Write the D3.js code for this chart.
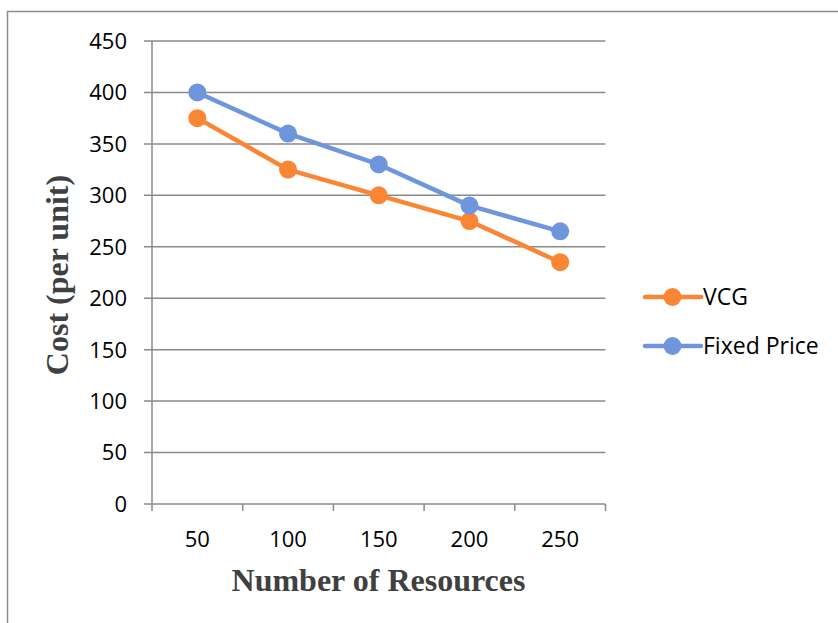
<!DOCTYPE html>
<html><head><meta charset="utf-8">
<script src="https://cdn.jsdelivr.net/npm/d3@7"></script>
<style>body{margin:0;background:#fff;}svg{display:block;}</style>
</head><body>
<script>
const categories = [50, 100, 150, 200, 250];
const vcg = [375, 325, 300, 275, 235];
const fixedPrice = [400, 360, 330, 290, 265];
const yTicks = [0, 50, 100, 150, 200, 250, 300, 350, 400, 450];
const seriesNames = ["VCG", "Fixed Price"];
const colors = ["#FA8535", "#6F96DC"];

(function () {
const W = 838, H = 623;
const svg = d3.select("body").append("svg").attr("width", W).attr("height", H);

svg.append("rect").attr("x", 7.5).attr("y", 11.5).attr("width", W).attr("height", H)
  .attr("fill", "none").attr("stroke", "#8c8c8c").attr("stroke-width", 1.5);

const pLeft = 152, pRight = 605.5, pTop = 41, pBottom = 504;
const x = d3.scaleBand().domain(categories).range([pLeft, pRight]);
const y = d3.scaleLinear().domain([0, 450]).range([pBottom, pTop]);

const grid = "#8a8a8a";
svg.append("g").selectAll("line").data(yTicks).join("line")
  .attr("x1", pLeft - 8).attr("x2", pRight)
  .attr("y1", d => y(d)).attr("y2", d => y(d))
  .attr("stroke", grid).attr("stroke-width", 1.5);
svg.append("line").attr("x1", pLeft).attr("x2", pLeft).attr("y1", pTop).attr("y2", pBottom)
  .attr("stroke", grid).attr("stroke-width", 1.5);
const xEdges = categories.map(c => x(c)).concat([pRight]);
svg.append("g").selectAll("line").data(xEdges).join("line")
  .attr("x1", d => d).attr("x2", d => d).attr("y1", pBottom).attr("y2", pBottom + 7)
  .attr("stroke", grid).attr("stroke-width", 1.5);

const labelFont = "'Open Sans', 'Noto Sans', sans-serif";
const fs = 22;
svg.append("g").selectAll("text").data(yTicks).join("text")
  .attr("x", 127).attr("y", d => y(d)).attr("dy", "0.36em")
  .attr("text-anchor", "end").attr("font-family", labelFont).attr("font-size", fs)
  .attr("fill", "#000").text(d => d);
svg.append("g").selectAll("text").data(categories).join("text")
  .attr("x", d => x(d) + x.bandwidth() / 2).attr("y", 547)
  .attr("text-anchor", "middle").attr("font-family", labelFont).attr("font-size", fs)
  .attr("fill", "#000").text(d => d);

svg.append("text").attr("x", 378.5).attr("y", 591).attr("text-anchor", "middle")
  .attr("font-family", "'Liberation Serif', 'Times New Roman', serif").attr("font-weight", "bold")
  .attr("font-size", 32).attr("fill", "#404040").text("Number of Resources");
svg.append("text").attr("transform", "translate(68,275) rotate(-90)").attr("text-anchor", "middle")
  .attr("font-family", "'Liberation Serif', 'Times New Roman', serif").attr("font-weight", "bold")
  .attr("font-size", 32).attr("fill", "#404040").text("Cost (per unit)");

const series = [vcg, fixedPrice];
const line = d3.line().x((d, i) => x(categories[i]) + x.bandwidth() / 2).y(d => y(d));
series.forEach((s, k) => {
  const g = svg.append("g");
  g.append("path").datum(s).attr("d", line).attr("fill", "none")
    .attr("stroke", colors[k]).attr("stroke-width", 4.5).attr("stroke-linejoin", "round");
  g.selectAll("circle").data(s).join("circle")
    .attr("cx", (d, i) => x(categories[i]) + x.bandwidth() / 2).attr("cy", d => y(d))
    .attr("r", 9).attr("fill", colors[k]);
});

const legY = [297, 346];
seriesNames.forEach((n, k) => {
  const g = svg.append("g");
  g.append("line").attr("x1", 645).attr("x2", 701).attr("y1", legY[k]).attr("y2", legY[k])
    .attr("stroke", colors[k]).attr("stroke-width", 4.5).attr("stroke-linecap", "round");
  g.append("circle").attr("cx", 672.5).attr("cy", legY[k]).attr("r", 9).attr("fill", colors[k]);
  g.append("text").attr("x", 703).attr("y", legY[k]).attr("dy", "0.36em")
    .attr("font-family", labelFont).attr("font-size", 23).attr("fill", "#000").text(n);
});
})();
</script>
</body></html>
